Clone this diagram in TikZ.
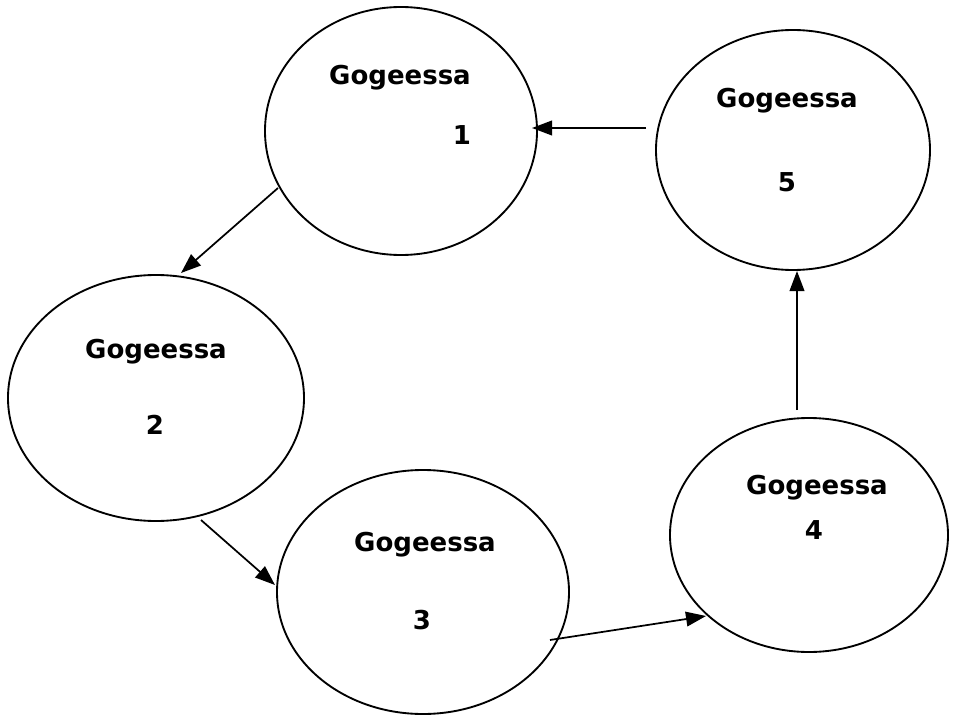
\documentclass[tikz,border=0pt]{standalone}
\usepackage{fontspec}
\setmainfont{DejaVu Sans}
\usetikzlibrary{arrows.meta}
\begin{document}
\begin{tikzpicture}[x=0.75pt,y=-0.75pt,
  ell/.style={draw,line width=1.4pt},
  lbl/.style={font=\fontsize{19.5}{22}\selectfont\bfseries,inner sep=0pt},
  conn/.style={line width=1.3pt,-{Triangle[length=15pt,width=11pt]}}]
\useasboundingbox (0,0) rectangle (957,717);
\draw[ell] (401,131) ellipse [x radius=136, y radius=124];
\draw[ell] (793,150) ellipse [x radius=137, y radius=120];
\draw[ell] (156,398) ellipse [x radius=148, y radius=123];
\draw[ell] (423,592) ellipse [x radius=146, y radius=122];
\draw[ell] (809,535) ellipse [x radius=139, y radius=117];
\node[lbl] (t1) at (400,78) {Gogeessa};
\node[lbl] (n1) at (462,135) {1};
\node[lbl] (t5) at (787,101) {Gogeessa};
\node[lbl] (n5) at (787,182) {5};
\node[lbl] (t2) at (156,352) {Gogeessa};
\node[lbl] (n2) at (155,425) {2};
\node[lbl] (t3) at (425,545) {Gogeessa};
\node[lbl] (n3) at (422,620) {3};
\node[lbl] (t4) at (817,488) {Gogeessa};
\node[lbl] (n4) at (814,530) {4};
\coordinate (a1s) at (278,188); \coordinate (a1e) at (181,273);
\coordinate (a2s) at (646,128); \coordinate (a2e) at (532,128);
\coordinate (a3s) at (201,520); \coordinate (a3e) at (275,585);
\coordinate (a4s) at (550,640); \coordinate (a4e) at (706,616);
\coordinate (a5s) at (797,410); \coordinate (a5e) at (797,271);
\draw[conn] (a1s) -- (a1e);
\draw[conn] (a2s) -- (a2e);
\draw[conn] (a3s) -- (a3e);
\draw[conn] (a4s) -- (a4e);
\draw[conn] (a5s) -- (a5e);
\end{tikzpicture}
\end{document}
